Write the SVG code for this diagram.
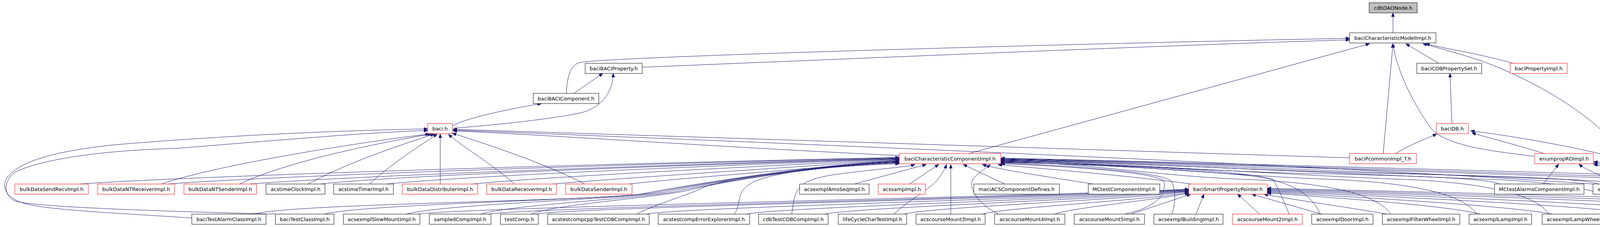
<svg xmlns="http://www.w3.org/2000/svg" width="5113" height="581" viewBox="0 0 5113 581">
<style>
.n rect{fill:#fff;stroke:#000;stroke-width:1}
.r rect{stroke:#f00}
.g rect{fill:#bfbfbf}
text{font-family:"DejaVu Sans","Liberation Sans",sans-serif;font-size:13px;text-anchor:middle;fill:#000}
.e path{fill:none;stroke:#191970;stroke-width:1;marker-end:url(#a)}
</style>
<defs>
<marker id="a" markerUnits="userSpaceOnUse" viewBox="0 0 11 8" markerWidth="11" markerHeight="8" refX="10" refY="4" orient="auto"><path d="M0,0 L10,4 L0,8 z" fill="#191970" stroke="#191970"/></marker>
</defs>
<rect width="5113" height="581" fill="#fff"/>
<g id="edges" class="e">
<path d="M3566,84 L3566,33"/>
<path d="M1644,172 C2000,158 3000,115 3455,102"/>
<path d="M1450,239 C1452,195 1460,162 1490,159 C1600,145 2600,115 3455,98"/>
<path d="M1469,239 L1543,188"/>
<path d="M1158,322 C1200,300 1300,280 1386,265"/>
<path d="M1160,328 C1300,318 1460,298 1500,285 C1550,265 1568,230 1570,188"/>
<path d="M2480,393 L3506,112"/>
<path d="M3683,162 L3599,112"/>
<path d="M3873,162 C3800,140 3700,125 3650,112"/>
<path d="M3541,393 L3566,112"/>
<path d="M3927,400 C3800,385 3700,370 3665,330 C3620,270 3575,180 3566,112"/>
<path d="M4157,393 C4050,260 3860,180 3790,155 C3720,132 3670,120 3643,112"/>
<path d="M3717,316 L3712,188"/>
<path d="M3573,393 C3600,375 3650,355 3678,343"/>
<path d="M3953,393 C3880,370 3800,350 3768,340"/>
<path d="M4102,395 C4000,370 3850,345 3765,335"/>
<path d="M2302,398 C1900,380 1400,345 1160,335"/>
<path d="M3455,404 L1160,331"/>
<path d="M4078,471 C3700,445 3000,405 1160,333"/>
<path d="M4148,471 C4100,450 4060,435 4042,420"/>
<path d="M4179,471 L4179,420"/>
<path d="M3951,471 L3990,420"/>
<path d="M4991,548 C4900,500 4840,470 4760,458 C4600,435 4400,422 4255,412"/>
<path d="M4600,548 C4500,510 4250,450 4080,421"/>
<path d="M4752,548 C4600,500 4300,445 4080,418"/>
<path d="M4939,548 C4700,490 4400,445 4080,414"/>
<path d="M413,471 C560,420 950,360 1099,343"/>
<path d="M614,471 C740,410 1000,360 1105,343"/>
<path d="M789,471 C900,410 1060,360 1112,343"/>
<path d="M946,471 C1000,420 1080,370 1119,343"/>
<path d="M1127,471 L1127,343"/>
<path d="M1317,471 C1260,420 1190,380 1148,344"/>
<path d="M1497,471 C1400,420 1250,370 1158,341"/>
<path d="M491,558 C300,545 120,538 60,520 C10,505 0,470 25,447 C60,410 150,385 300,370 C600,345 900,333 1095,330"/>
<path d="M705,548 C500,543 100,532 40,515 C5,500 10,460 40,440 C100,410 250,385 448,380 C700,360 950,338 1095,334"/>
<path d="M204,471 C500,450 1500,420 2302,403"/>
<path d="M430,471 C700,450 1600,420 2302,404"/>
<path d="M640,471 C900,450 1700,422 2302,405"/>
<path d="M820,471 C1000,450 1700,424 2302,406"/>
<path d="M990,471 C1200,450 1800,425 2302,407"/>
<path d="M1210,471 C1400,452 1900,428 2302,408"/>
<path d="M1415,471 C1600,455 2000,430 2302,409"/>
<path d="M1610,471 C1750,455 2100,430 2302,410"/>
<path d="M650,548 C750,520 1550,515 1650,495 C1750,475 2100,418 2302,412"/>
<path d="M830,548 C950,520 1580,512 1680,492 C1780,472 2100,420 2302,413"/>
<path d="M1040,548 C1150,520 1620,510 1710,490 C1800,470 2100,421 2302,414"/>
<path d="M1230,548 C1320,522 1660,508 1740,488 C1830,468 2100,422 2302,415"/>
<path d="M1360,548 C1420,522 1700,505 1770,485 C1850,465 2100,423 2302,416"/>
<path d="M1630,548 C1680,522 1760,500 1800,480 C1860,455 2100,424 2302,417"/>
<path d="M1880,548 C1900,520 1880,490 1930,465 C2000,435 2150,425 2302,419"/>
<path d="M2187,471 L2371,421"/>
<path d="M2328,471 L2403,421"/>
<path d="M2027,548 C2035,480 2040,460 2150,445 C2250,432 2320,428 2342,421"/>
<path d="M2288,548 C2330,510 2385,480 2400,460 C2415,440 2420,430 2423,421"/>
<path d="M2434,548 L2434,421"/>
<path d="M2572,471 L2466,421"/>
<path d="M2798,471 C2700,455 2560,435 2515,421"/>
<path d="M2556,548 C2500,520 2480,480 2490,460 C2500,445 2525,430 2535,421"/>
<path d="M3050,471 C2850,445 2620,428 2555,421"/>
<path d="M2880,548 C2960,530 2985,500 2980,465 C2970,440 2700,424 2562,419"/>
<path d="M3000,548 C3010,520 3010,490 3000,465 C2980,438 2700,422 2562,417"/>
<path d="M3300,548 C3290,520 3270,480 3260,460 C3200,435 2800,420 2562,416"/>
<path d="M3380,548 C3360,505 3320,465 3200,450 C3000,430 2700,418 2562,415"/>
<path d="M3560,548 C3530,500 3410,470 3210,460 C2960,452 2800,417 2562,414"/>
<path d="M3840,471 C3800,455 3600,450 3400,445 C3100,440 2800,416 2562,413"/>
<path d="M3780,548 C3750,500 3630,470 3430,460 C3180,452 2800,415 2562,412"/>
<path d="M3965,548 C3935,500 3815,470 3615,460 C3365,452 2800,414 2562,411"/>
<path d="M4092,471 C4050,455 3800,450 3600,445 C3300,440 2800,413 2562,410"/>
<path d="M4190,548 C4160,500 4040,470 3840,460 C3590,452 2800,412 2562,409"/>
<path d="M4380,548 C4350,500 4230,470 4030,460 C3780,452 2800,411 2562,408"/>
<path d="M4610,548 C4580,500 4460,470 4260,460 C4010,452 2800,410 2562,407"/>
<path d="M4750,548 C4720,500 4600,470 4400,460 C4150,452 2800,409 2562,406"/>
<path d="M4940,548 C4910,500 4790,470 4590,460 C4340,452 2800,408 2562,405"/>
<path d="M1070,548 C1200,530 2600,505 3043,484"/>
<path d="M1250,548 C1380,530 2650,506 3043,485"/>
<path d="M1372,548 C1480,530 2700,507 3043,486"/>
<path d="M1655,548 C1750,530 2750,508 3043,487"/>
<path d="M1912,548 C2000,530 2800,509 3043,488"/>
<path d="M2112,548 C2200,530 2850,510 3043,489"/>
<path d="M2314,548 C2380,530 2900,511 3043,490"/>
<path d="M2515,548 C2580,530 2950,512 3043,492"/>
<path d="M2700,548 C2750,530 2980,510 3043,494"/>
<path d="M2895,548 C2950,530 3010,510 3048,497"/>
<path d="M3062,548 L3082,497"/>
<path d="M3225,548 L3168,497"/>
<path d="M3383,548 L3205,497"/>
<path d="M3550,548 C3450,530 3300,510 3236,497"/>
<path d="M3790,548 C3700,525 3400,505 3244,494"/>
<path d="M3975,548 C3850,525 3450,503 3244,492"/>
<path d="M4200,548 C4050,525 3500,500 3244,490"/>
<path d="M4390,548 C4200,522 3550,498 3244,488"/>
<path d="M4610,548 C4400,520 3600,496 3244,486"/>
<path d="M4760,548 C4550,518 3650,494 3244,484"/>
<path d="M4950,548 C4700,515 3700,492 3244,482"/>
</g>
<g id="cdbDAONode" class="n g"><rect x="3505" y="7" width="123" height="26"/><text x="3566.5" y="25">cdbDAONode.h</text></g>
<g id="baciCharacteristicModelImpl" class="n"><rect x="3455" y="84" width="221" height="26"/><text x="3565.5" y="102">baciCharacteristicModelImpl.h</text></g>
<g id="baciBACIProperty" class="n"><rect x="1498" y="162" width="146" height="26"/><text x="1571" y="180">baciBACIProperty.h</text></g>
<g id="baciCDBPropertySet" class="n"><rect x="3627" y="162" width="166" height="26"/><text x="3710" y="180">baciCDBPropertySet.h</text></g>
<g id="baciPropertyImpl" class="n r"><rect x="3866" y="162" width="146" height="26"/><text x="3939" y="180">baciPropertyImpl.h</text></g>
<g id="baciBACIComponent" class="n"><rect x="1365" y="239" width="168" height="26"/><text x="1449" y="257">baciBACIComponent.h</text></g>
<g id="baci" class="n r"><rect x="1095" y="316" width="63" height="26"/><text x="1126.5" y="334">baci.h</text></g>
<g id="baciDB" class="n r"><rect x="3677" y="316" width="82" height="26"/><text x="3718" y="334">baciDB.h</text></g>
<g id="baciCharacteristicComponentImpl" class="n r"><rect x="2302" y="393" width="260" height="26"/><text x="2432" y="411">baciCharacteristicComponentImpl.h</text></g>
<g id="baciPcommonImpl_T" class="n r"><rect x="3455" y="393" width="171" height="26"/><text x="3540.5" y="411">baciPcommonImpl_T.h</text></g>
<g id="enumpropROImpl" class="n r"><rect x="3929" y="393" width="150" height="26"/><text x="4004" y="411">enumpropROImpl.h</text></g>
<g id="enumpropRWImpl" class="n r"><rect x="4102" y="393" width="152" height="26"/><text x="4178" y="411">enumpropRWImpl.h</text></g>
<g id="bulkDataSendRecvImpl" class="n r"><rect x="38" y="471" width="188" height="26"/><text x="132" y="489">bulkDataSendRecvImpl.h</text></g>
<g id="bulkDataNTReceiverImpl" class="n r"><rect x="250" y="471" width="197" height="26"/><text x="348.5" y="489">bulkDataNTReceiverImpl.h</text></g>
<g id="bulkDataNTSenderImpl" class="n r"><rect x="471" y="471" width="186" height="26"/><text x="564" y="489">bulkDataNTSenderImpl.h</text></g>
<g id="acstimeClockImpl" class="n"><rect x="681" y="471" width="151" height="26"/><text x="756.5" y="489">acstimeClockImpl.h</text></g>
<g id="acstimeTimerImpl" class="n"><rect x="854" y="471" width="153" height="26"/><text x="930.5" y="489">acstimeTimerImpl.h</text></g>
<g id="bulkDataDistributerImpl" class="n r"><rect x="1030" y="471" width="193" height="26"/><text x="1126.5" y="489">bulkDataDistributerImpl.h</text></g>
<g id="bulkDataReceiverImpl" class="n r"><rect x="1246" y="471" width="179" height="26"/><text x="1335.5" y="489">bulkDataReceiverImpl.h</text></g>
<g id="bulkDataSenderImpl" class="n r"><rect x="1448" y="471" width="170" height="26"/><text x="1533" y="489">bulkDataSenderImpl.h</text></g>
<g id="acsexmplAmsSeqImpl" class="n"><rect x="2047" y="471" width="178" height="26"/><text x="2136" y="489">acsexmplAmsSeqImpl.h</text></g>
<g id="acssampImpl" class="n r"><rect x="2248" y="471" width="121" height="26"/><text x="2308.5" y="489">acssampImpl.h</text></g>
<g id="maciACSComponentDefines" class="n"><rect x="2493" y="471" width="219" height="26"/><text x="2602.5" y="489">maciACSComponentDefines.h</text></g>
<g id="MCtestComponentImpl" class="n"><rect x="2786" y="471" width="183" height="26"/><text x="2877.5" y="489">MCtestComponentImpl.h</text></g>
<g id="baciSmartPropertyPointer" class="n r"><rect x="3043" y="471" width="201" height="26"/><text x="3143.5" y="489">baciSmartPropertyPointer.h</text></g>
<g id="MCtestAlarmsComponentImpl" class="n"><rect x="3826" y="471" width="229" height="26"/><text x="3940.5" y="489">MCtestAlarmsComponentImpl.h</text></g>
<g id="enumpropTestDeviceImpl" class="n"><rect x="4078" y="471" width="202" height="26"/><text x="4179" y="489">enumpropTestDeviceImpl.h</text></g>
<g id="baciTestAlarmClassImpl" class="n"><rect x="491" y="548" width="190" height="26"/><text x="586" y="566">baciTestAlarmClassImpl.h</text></g>
<g id="baciTestClassImpl" class="n"><rect x="705" y="548" width="150" height="26"/><text x="780" y="566">baciTestClassImpl.h</text></g>
<g id="acsexmplSlowMountImpl" class="n"><rect x="879" y="548" width="196" height="26"/><text x="977" y="566">acsexmplSlowMountImpl.h</text></g>
<g id="sampledCompImpl" class="n"><rect x="1099" y="548" width="158" height="26"/><text x="1178" y="566">sampledCompImpl.h</text></g>
<g id="testComp" class="n"><rect x="1281" y="548" width="97" height="26"/><text x="1329.5" y="566">testComp.h</text></g>
<g id="acstestcompcppTestCDBCompImpl" class="n"><rect x="1402" y="548" width="260" height="26"/><text x="1532" y="566">acstestcompcppTestCDBCompImpl.h</text></g>
<g id="acstestcompErrorExplorerImpl" class="n"><rect x="1685" y="548" width="234" height="26"/><text x="1802" y="566">acstestcompErrorExplorerImpl.h</text></g>
<g id="cdbTestCDBCompImpl" class="n"><rect x="1942" y="548" width="178" height="26"/><text x="2031" y="566">cdbTestCDBCompImpl.h</text></g>
<g id="lifeCycleCharTestImpl" class="n"><rect x="2146" y="548" width="175" height="26"/><text x="2233.5" y="566">lifeCycleCharTestImpl.h</text></g>
<g id="acscourseMount3Impl" class="n"><rect x="2345" y="548" width="177" height="26"/><text x="2433.5" y="566">acscourseMount3Impl.h</text></g>
<g id="acscourseMount4Impl" class="n"><rect x="2546" y="548" width="180" height="26"/><text x="2636" y="566">acscourseMount4Impl.h</text></g>
<g id="acscourseMount5Impl" class="n"><rect x="2750" y="548" width="180" height="26"/><text x="2840" y="566">acscourseMount5Impl.h</text></g>
<g id="acsexmplBuildingImpl" class="n"><rect x="2954" y="548" width="177" height="26"/><text x="3042.5" y="566">acsexmplBuildingImpl.h</text></g>
<g id="acscourseMount2Impl" class="n r"><rect x="3155" y="548" width="179" height="26"/><text x="3244.5" y="566">acscourseMount2Impl.h</text></g>
<g id="acsexmplDoorImpl" class="n"><rect x="3358" y="548" width="157" height="26"/><text x="3436.5" y="566">acsexmplDoorImpl.h</text></g>
<g id="acsexmplFilterWheelImpl" class="n"><rect x="3539" y="548" width="198" height="26"/><text x="3638" y="566">acsexmplFilterWheelImpl.h</text></g>
<g id="acsexmplLampImpl" class="n"><rect x="3761" y="548" width="160" height="26"/><text x="3841" y="566">acsexmplLampImpl.h</text></g>
<g id="acsexmplLampWheelImpl" class="n"><rect x="3948" y="548" width="202" height="26"/><text x="4049" y="566">acsexmplLampWheelImpl.h</text></g>
<g id="acsexmplMountImpl" class="n"><rect x="4173" y="548" width="167" height="26"/><text x="4256.5" y="566">acsexmplMountImpl.h</text></g>
<g id="acsexmplPowerSupplyImpl" class="n r"><rect x="4363" y="548" width="209" height="26"/><text x="4467.5" y="566">acsexmplPowerSupplyImpl.h</text></g>
<g id="baciTestImpl" class="n"><rect x="4595" y="548" width="117" height="26"/><text x="4653.5" y="566">baciTestImpl.h</text></g>
<g id="acsexmplFridgeImpl" class="n"><rect x="4735" y="548" width="165" height="26"/><text x="4817.5" y="566">acsexmplFridgeImpl.h</text></g>
<g id="acsexmplCalendarImpl" class="n"><rect x="4923" y="548" width="172" height="26"/><text x="5009" y="566">acsexmplCalendarImpl.h</text></g>
</svg>
